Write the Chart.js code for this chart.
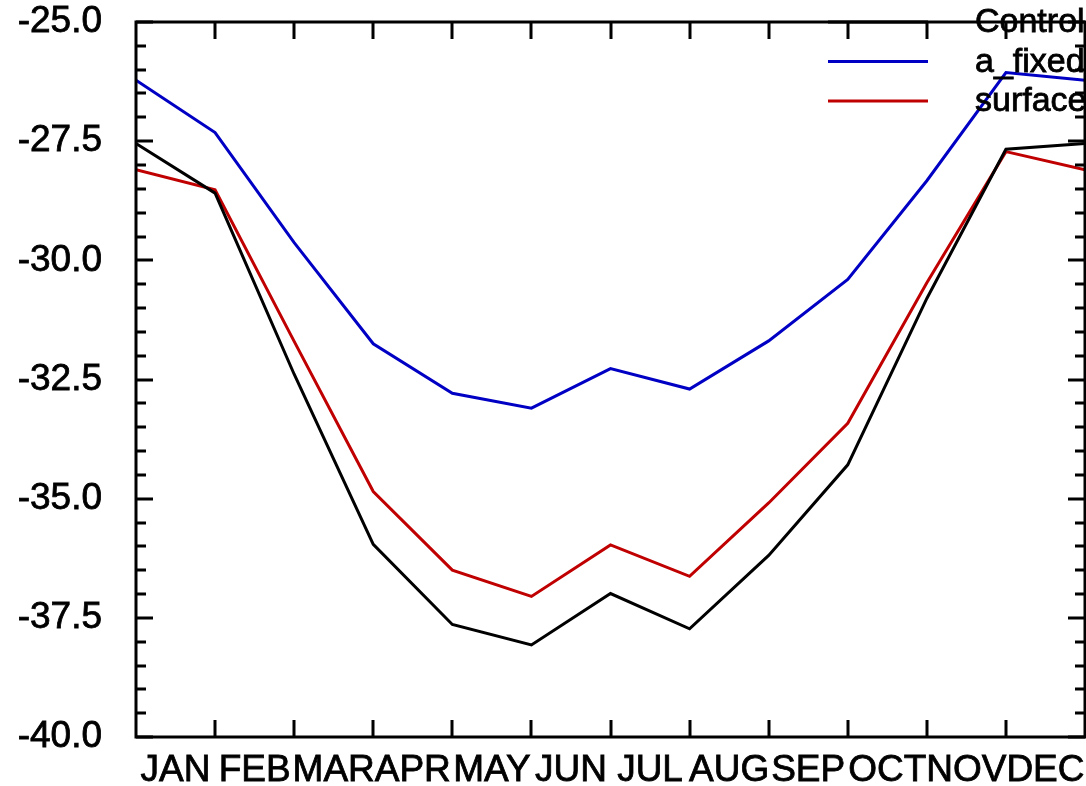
<!DOCTYPE html>
<html>
<head>
<meta charset="utf-8">
<script src="https://cdn.jsdelivr.net/npm/chart.js@4/dist/chart.umd.min.js"></script>
<style>
  html, body { margin: 0; padding: 0; background: #fff; overflow: hidden; }
  #wrap { width: 1086px; height: 786px; }
</style>
</head>
<body>
<div id="wrap"><canvas id="c" width="1086" height="786"></canvas></div>
<script>
// Month labels (drawn mid-interval) and the annual cycle, January repeated at the end
const months = ['JAN', 'FEB', 'MAR', 'APR', 'MAY', 'JUN', 'JUL', 'AUG', 'SEP', 'OCT', 'NOV', 'DEC'];
const control = [-27.55, -28.59, -32.39, -35.96, -37.64, -38.07, -36.99, -37.73, -36.19, -34.29, -30.80, -27.67, -27.55];
const aFixed  = [-26.22, -27.32, -29.63, -31.75, -32.79, -33.10, -32.27, -32.70, -31.69, -30.40, -28.33, -26.06, -26.22];
const surface = [-28.10, -28.52, -31.70, -34.85, -36.50, -37.05, -35.97, -36.63, -35.09, -33.42, -30.47, -27.72, -28.10];
const yTicks  = [-40.0, -37.5, -35.0, -32.5, -30.0, -27.5, -25.0];
const yMinorStep = 0.5;

const seriesNames  = ['Control', 'a_fixed', 'surface'];
const seriesColors = ['#000000', '#0000c4', '#c00000'];
const seriesValues = [control, aFixed, surface];

const FONT = 'Liberation Sans, Arial, Helvetica, sans-serif';

// Frame with inward major/minor ticks on all four sides
const framePlugin = {
  id: 'frame',
  afterDraw(chart) {
    const { ctx, chartArea: { left, right, top, bottom }, scales: { x, y } } = chart;
    ctx.save();
    ctx.strokeStyle = '#000';
    ctx.lineWidth = 3;
    ctx.lineCap = 'butt';
    ctx.strokeRect(left, top, right - left, bottom - top);
    ctx.beginPath();
    // y ticks: minor every 0.5, major at labelled values
    const nMinor = Math.round((y.max - y.min) / yMinorStep);
    for (let k = 0; k <= nMinor; k++) {
      const v = y.min + k * yMinorStep;
      const py = Math.round(y.getPixelForValue(v));
      const major = yTicks.some(t => Math.abs(t - v) < 1e-6);
      const len = major ? 17 : 10;
      ctx.moveTo(left, py); ctx.lineTo(left + len, py);
      ctx.moveTo(right, py); ctx.lineTo(right - len, py);
    }
    // x ticks at month boundaries
    for (let i = 1; i < months.length; i++) {
      const px = Math.round(x.getPixelForValue(i));
      ctx.moveTo(px, bottom); ctx.lineTo(px, bottom - 17);
      ctx.moveTo(px, top); ctx.lineTo(px, top + 17);
    }
    ctx.stroke();
    ctx.restore();
  }
};

// Legend in the upper right corner
const legendPlugin = {
  id: 'cornerLegend',
  afterDraw(chart) {
    const { ctx } = chart;
    ctx.save();
    ctx.font = '34px ' + FONT;
    ctx.textBaseline = 'middle';
    ctx.textAlign = 'left';
    chart.data.datasets.forEach((ds, i) => {
      const yy = 22 + i * 39.5;
      ctx.strokeStyle = ds.borderColor;
      ctx.lineWidth = 3;
      ctx.beginPath();
      ctx.moveTo(828, yy); ctx.lineTo(928, yy);
      ctx.stroke();
      ctx.fillStyle = '#000';
      ctx.strokeStyle = '#000';
      ctx.lineWidth = 0.8;
      ctx.fillText(ds.label, 975, yy + 1);
      ctx.strokeText(ds.label, 975, yy + 1);
    });
    ctx.restore();
  }
};

const datasets = seriesValues.map((vals, i) => ({
  label: seriesNames[i],
  data: vals.map((v, k) => ({ x: k, y: v })),
  borderColor: seriesColors[i],
  backgroundColor: seriesColors[i],
  borderWidth: 3,
  pointRadius: 0,
  tension: 0,
  fill: false
}));

new Chart(document.getElementById('c'), {
  type: 'line',
  data: { datasets },
  options: {
    responsive: false,
    animation: false,
    devicePixelRatio: 1,
    layout: { padding: { top: 22, right: 1, left: 0, bottom: 0 } },
    plugins: { legend: { display: false }, tooltip: { enabled: false } },
    scales: {
      x: {
        type: 'linear',
        min: 0,
        max: 12,
        grid: { display: false, drawTicks: false },
        border: { display: false },
        afterBuildTicks(scale) {
          scale.ticks = months.map((m, i) => ({ value: i + 0.5 }));
        },
        afterFit(scale) {
          scale.height = 49;
          scale.paddingLeft = 0;
          scale.paddingRight = 0;
        },
        ticks: {
          autoSkip: false,
          maxRotation: 0,
          padding: 12,
          color: '#000',
          textStrokeColor: '#000',
          textStrokeWidth: 0.8,
          font: { family: FONT, size: 37 },
          callback: (value, index) => months[index]
        }
      },
      y: {
        type: 'linear',
        min: -40,
        max: -25,
        grid: { display: false, drawTicks: false },
        border: { display: false },
        afterBuildTicks(scale) {
          scale.ticks = yTicks.map(v => ({ value: v }));
        },
        afterFit(scale) {
          scale.width = 136;
          scale.paddingTop = 0;
          scale.paddingBottom = 0;
        },
        ticks: {
          padding: 34,
          color: '#000',
          textStrokeColor: '#000',
          textStrokeWidth: 0.8,
          font: { family: FONT, size: 37 },
          callback: v => Number(v).toFixed(1)
        }
      }
    }
  },
  plugins: [framePlugin, legendPlugin]
});
</script>
</body>
</html>
